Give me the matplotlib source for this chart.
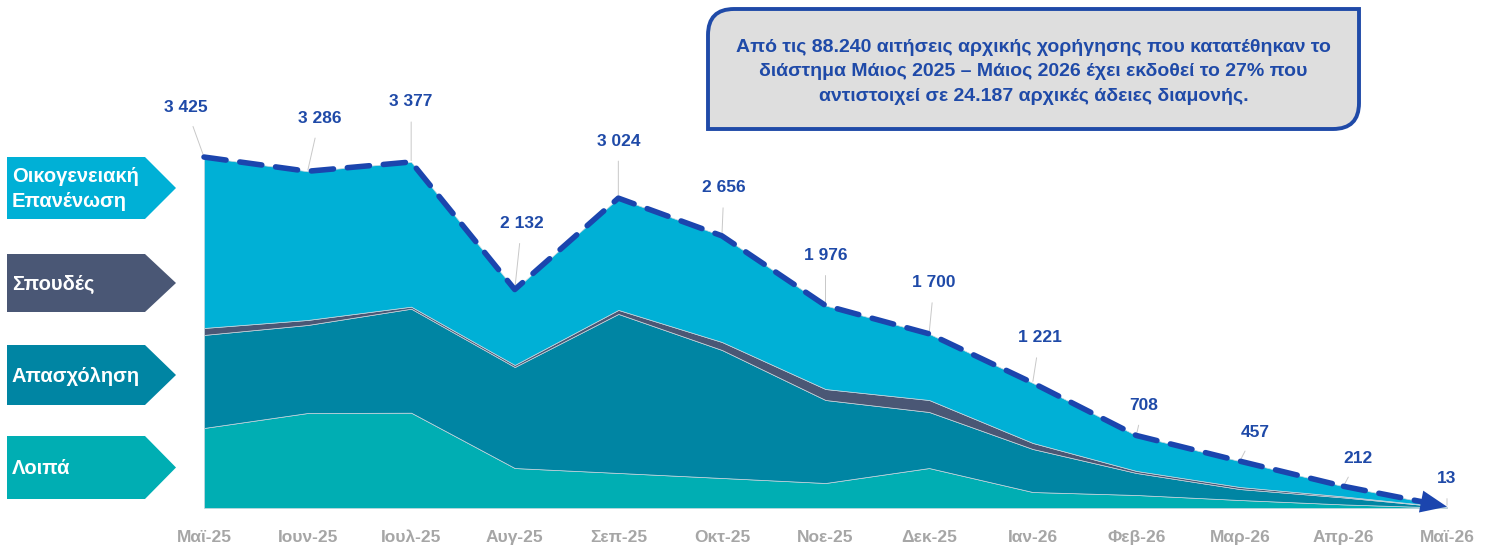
import matplotlib.pyplot as plt
import matplotlib.patches as mpatches
from matplotlib.path import Path
import numpy as np

plt.rcParams['font.family'] = ['Liberation Sans', 'DejaVu Sans']
plt.rcParams['lines.scale_dashes'] = False

# data
months = ['Μαϊ-25', 'Ιουν-25', 'Ιουλ-25', 'Αυγ-25', 'Σεπ-25', 'Οκτ-25', 'Νοε-25',
          'Δεκ-25', 'Ιαν-26', 'Φεβ-26', 'Μαρ-26', 'Απρ-26', 'Μαϊ-26']
totals = [3425, 3286, 3377, 2132, 3024, 2656, 1976, 1700, 1221, 708, 457, 212, 13]
loipa = [781, 927, 930, 390, 342, 293, 244, 390, 156, 127, 78, 35, 3]
apasxolisi = [908, 859, 1015, 986, 1552, 1249, 810, 547, 420, 215, 107, 68, 5]
spoudes = [68, 49, 20, 20, 39, 78, 107, 117, 59, 20, 20, 10, 1]
oikogeneiaki = [t - a - b - c for t, a, b, c in zip(totals, loipa, apasxolisi, spoudes)]

categories = ['Οικογενειακή\nΕπανένωση', 'Σπουδές', 'Απασχόληση', 'Λοιπά']
cat_colors = ['#00B0D6', '#4A5775', '#0085A3', '#00AEB3']

# label offsets in pixels (dx, dy) from the point
label_off = [(-18, 50), (12, 53), (0, 60), (7, 66), (0, 57), (2, 48), (0, 50),
             (5, 51), (7, 45), (7, 30), (15, 29), (15, 28), (0, 28)]

W, H = 1496, 547
fig = plt.figure(figsize=(W / 100, H / 100), dpi=100)

ax = fig.add_axes([204 / W, 39 / H, 1243 / W, 498 / H])
x = np.arange(len(months))
ax.stackplot(x, loipa, apasxolisi, spoudes, oikogeneiaki,
             colors=['#00AEB3', '#0085A3', '#4A5775', '#00B0D6'],
             edgecolor='#c9d6de', linewidth=0.5)
blue = '#1B45AE'
ax.plot(x[:-1], totals[:-1], color=blue, lw=4, dashes=(16, 10),
        dash_capstyle='round', solid_capstyle='round', clip_on=False, zorder=5)
ax.annotate('', xy=(x[-1], totals[-1]), xytext=(x[-2], totals[-2]),
            arrowprops=dict(arrowstyle='-|>,head_length=1.9,head_width=0.8',
                            color=blue, lw=0, shrinkA=0, shrinkB=0), zorder=6)
ax.plot(x[-2:], totals[-2:], color=blue, lw=4, dashes=(16, 10),
        dash_capstyle='round', clip_on=False, zorder=5)

for i, t in enumerate(totals):
    dx, dy = label_off[i]
    ax.annotate('{:,}'.format(t).replace(',', ' '), xy=(i, t), xytext=(dx, dy),
                textcoords='offset pixels', ha='center', va='center',
                fontsize=12.5, fontweight='bold', color='#1F4AA8',
                arrowprops=dict(arrowstyle='-', color='#c8c8c8', lw=0.7,
                                shrinkA=7, shrinkB=1))

ax.set_xlim(0, 12)
ax.set_ylim(0, 4860)
ax.set_xticks(x)
ax.set_xticklabels(months, fontsize=12.5, fontweight='bold', color='#A6A6A6')
ax.tick_params(axis='x', length=0, pad=16)
ax.set_yticks([])
for s in ax.spines.values():
    s.set_visible(False)
ax.patch.set_alpha(0)

# overlay in pixel coords for the side labels and note box
ov = fig.add_axes([0, 0, 1, 1])
ov.set_xlim(0, W)
ov.set_ylim(H, 0)
ov.axis('off')
ov.patch.set_alpha(0)

tops = [157, 254, 345, 436]
bots = [219, 312, 405, 499]
for name, c, t, b in zip(categories, cat_colors, tops, bots):
    mid = (t + b) / 2
    poly = mpatches.Polygon([(7, t), (145, t), (176, mid), (145, b), (7, b)],
                            closed=True, facecolor=c, edgecolor='none')
    ov.add_patch(poly)
    ov.text(12, mid + 1, name, ha='left', va='center', color='white',
            fontsize=14.5, fontweight='bold', linespacing=1.45)

# note box: rounded top-left and bottom-right corners
x0, x1, y0, y1, r = 708, 1359, 9, 129, 26
verts = [(x0, y0 + r), (x0, y0), (x0 + r, y0), (x1, y0), (x1, y1 - r),
         (x1, y1), (x1 - r, y1), (x0, y1), (x0, y0 + r)]
codes = [Path.MOVETO, Path.CURVE3, Path.CURVE3, Path.LINETO, Path.LINETO,
         Path.CURVE3, Path.CURVE3, Path.LINETO, Path.CLOSEPOLY]
ov.add_patch(mpatches.PathPatch(Path(verts, codes), facecolor='#DEDEDE',
                                edgecolor='#1F4AA8', lw=2.8))
note = ('Από τις 88.240 αιτήσεις αρχικής χορήγησης που κατατέθηκαν το\n'
        'διάστημα Μάιος 2025 – Μάιος 2026 έχει εκδοθεί το 27% που\n'
        'αντιστοιχεί σε 24.187 αρχικές άδειες διαμονής.')
ov.text((x0 + x1) / 2, 72, note, ha='center', va='center',
        fontsize=14, fontweight='bold', color='#1F4AA8', linespacing=1.55)

fig.savefig('out.png', dpi=100)
